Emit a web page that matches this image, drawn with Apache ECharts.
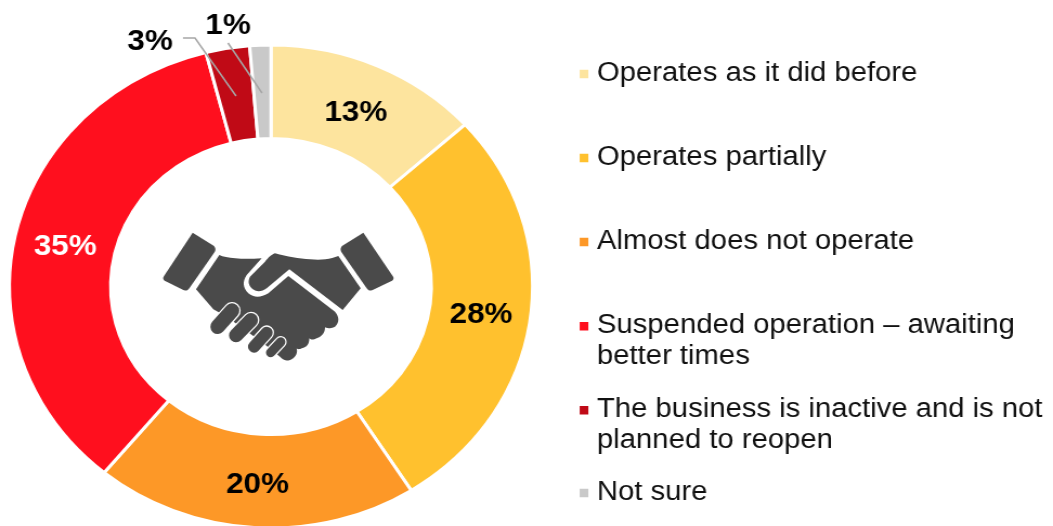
<!DOCTYPE html>
<html>
<head>
<meta charset="utf-8">
<style>
html,body{margin:0;padding:0;background:#fff;overflow:hidden;width:1053px;height:526px}
#chart{position:absolute;left:0;top:0;width:972px;height:526px;transform-origin:0 0;transform:scaleX(1.08333)}
</style>
<script src="https://cdn.jsdelivr.net/npm/echarts@6/dist/echarts.min.js"></script>
</head>
<body>
<div id="chart"></div>
<script>
const categories = ['Operates as it did before','Operates partially','Almost does not operate','Suspended operation – awaiting\nbetter times','The business is inactive and is not\nplanned to reopen','Not sure'];
const values = [13.3,27.7,20,35,2.7,1.3];
const colors = ['#FDE49E','#FFC12E','#FD9827','#FF0F1E','#C00A16','#C9C9C9'];
const labelColors = ['#000','#000','#000','#fff','#000','#000'];
const legendCentres = [74,158,242,326,410,493];

const SX = 1053/972;
const FONT = '"Liberation Sans", Arial, sans-serif';
const px = x => x / SX;

const labelNudge = {0:[-2,7], 1:[-2,2], 2:[0,1], 3:[3,4]};
const outsideLabels = {4: {x: px(150), y: 42}, 5: {x: px(228), y: 26}};
const leaderLines = [
  [[236,96],[195,38],[183,38]],
  [[262,93],[228,43]]
];

const legends = categories.map((name,i) => {
  const two = name.indexOf('\n') >= 0;
  return {
    data: [name],
    orient: 'vertical',
    left: px(577.5),
    top: legendCentres[i] - 15.5,
    padding: 0,
    selectedMode: false,
    itemWidth: 10,
    itemHeight: two ? 41 : 10.5,
    icon: two ? 'path://M0,0H10V10.5H0ZM0,41H10V41H0Z' : 'rect',
    textStyle: {fontFamily: FONT, fontSize: 27, lineHeight: 31, color: '#111', padding: [0,0,0,2]}
  };
});

const fingers = [[203,320,246,272,44],[258,346,303,300,42],[312,380,350,338,36],[362,398,392,366,28]];
const iconColor = '#4A4A4A';
const iconPaths = [
  'M128,38 L192,78 Q199,86 194,96 L118,205 Q110,215 100,210 L44,182 Q36,176 42,168 Z',
  'M640,38 L576,78 Q569,86 574,96 L650,205 Q658,215 668,210 L726,182 Q734,176 728,168 Z',
  'M375,100 Q430,115 480,118 Q530,122 565,108 L632,205 L578,270 L418,148 L350,205 Q325,222 305,205 Q290,190 300,170 L345,125 Q360,105 375,100 Z',
  'M208,105 Q240,120 335,115 L290,165 Q270,195 295,220 Q320,240 355,220 L415,168 L555,275 Q575,300 555,320 Q540,328 525,322 Q525,345 500,355 Q485,362 478,355 Q478,380 455,385 Q445,390 440,385 Q445,405 425,418 Q405,428 390,410 L340,370 L230,290 L190,268 L138,208 Z'
];
function flatten(d) {
  const pts = [];
  const re = /([MLQ])([^MLQZ]*)/g;
  let m;
  while ((m = re.exec(d))) {
    const n = m[2].trim().split(/[\s,]+/).map(Number);
    if (m[1] === 'Q') {
      const s = pts[pts.length-1];
      for (let t = 0.125; t <= 1; t += 0.125) {
        const u = 1-t;
        pts.push([u*u*s[0]+2*u*t*n[0]+t*t*n[2], u*u*s[1]+2*u*t*n[1]+t*t*n[3]]);
      }
    } else pts.push([n[0],n[1]]);
  }
  return pts;
}
</script>
<script>
const chart = echarts.init(document.getElementById('chart'));
const place = {x: px(150), y: 220, scaleX: 1/3/SX, scaleY: 1/3, silent: true};
const capsule = (f, stroke, w, z) => Object.assign({
  type: 'line', z,
  shape: {x1:f[0], y1:f[1], x2:f[2], y2:f[3]},
  style: {stroke, lineWidth: w, lineCap: 'round'}
}, place);
const graphic = iconPaths.map(p => Object.assign({
  type: 'polygon', z: 10,
  shape: {points: flatten(p)},
  style: {fill: iconColor}
}, place)).concat(
  fingers.map(f => capsule(f, '#fff', f[4] + 8, 11)),
  fingers.map(f => capsule(f, iconColor, f[4], 12)),
  leaderLines.map(l => ({
    type: 'polyline', z: 20, silent: true,
    shape: {points: l.map(p => [px(p[0]), p[1]])},
    style: {stroke: '#A6A6A6', lineWidth: 1.5, fill: 'none'}
  }))
);
chart.setOption({
  animation: false,
  backgroundColor: '#fff',
  legend: legends,
  graphic,
  series: [{
    type: 'pie',
    center: [px(271), 286.5],
    radius: [148, 241.5],
    startAngle: 90,
    clockwise: true,
    avoidLabelOverlap: false,
    silent: true,
    itemStyle: {borderColor: '#fff', borderWidth: 3},
    label: {
      position: 'inside',
      fontFamily: FONT, fontSize: 29, fontWeight: 'bold',
      formatter: p => Math.round(p.value) + '%'
    },
    labelLine: {show: false},
    labelLayout: p => {
      const o = outsideLabels[p.dataIndex];
      if (o) return {x: o.x, y: o.y, align: 'center', verticalAlign: 'middle'};
      const n = labelNudge[p.dataIndex];
      return n ? {dx: n[0], dy: n[1]} : {};
    },
    data: categories.map((name,i) => ({
      name, value: values[i],
      itemStyle: {color: colors[i]},
      label: {color: labelColors[i], position: outsideLabels[i] ? 'outside' : 'inside'}
    }))
  }]
});
</script>
</body>
</html>
